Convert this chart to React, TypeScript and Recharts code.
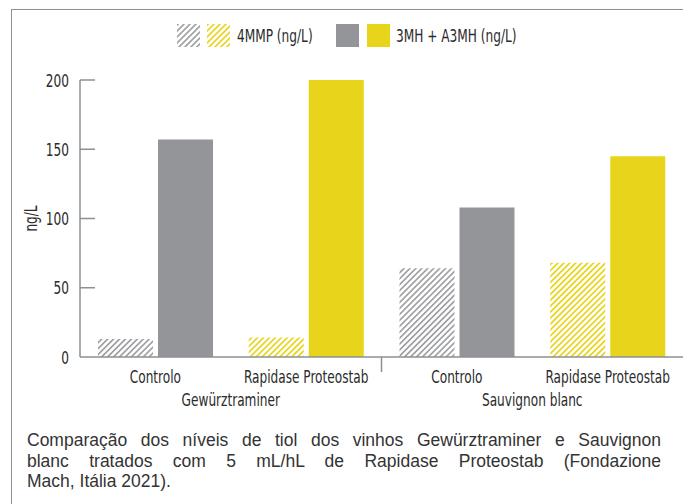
import React from 'react';
import { BarChart, Bar, XAxis, YAxis, Cell, Legend } from 'recharts';

const wines = ['Gewürztraminer', 'Gewürztraminer', 'Sauvignon blanc', 'Sauvignon blanc'];
const treatments = ['Controlo', 'Rapidase Proteostab', 'Controlo', 'Rapidase Proteostab'];
const mmp4 = [13, 14, 64, 68];
const mh3 = [157, 200, 108, 145];
const yTicks = [0, 50, 100, 150, 200];
const legendLabels = ['4MMP (ng/L)', '3MH + A3MH (ng/L)'];
const captionLines = [
  'Comparação dos níveis de tiol dos vinhos Gewürztraminer e Sauvignon',
  'blanc tratados com 5 mL/hL de Rapidase Proteostab (Fondazione',
  'Mach, Itália 2021).',
];

const GRAY = '#939598';
const GRAY_HATCH = '#9fa1a4';
const YELLOW = '#e8d41b';
const AXIS = '#8d8f92';
const TEXT = '#2b2b2b';
const FONT = '"DejaVu Sans Condensed", "DejaVu Sans", sans-serif';
const FS = 18;
const SX = 0.75; // squeeze to look like the condensed face of the original
const W = 683;
const H = 504;
const PLOT_LEFT = 80;
const BAND = (W - PLOT_LEFT) / 4;

const data = treatments.map((t, i) => ({ treatment: t, wine: wines[i], mmp: mmp4[i], mh: mh3[i] }));

const isControl = (t: string) => t === 'Controlo';

const Hatch = ({ id, color }: { id: string; color: string }) => (
  <pattern id={id} patternUnits="userSpaceOnUse" width={4.2} height={4.2} patternTransform="rotate(45)">
    <rect width={4.2} height={4.2} fill="#fff" />
    <rect width={1.7} height={4.2} fill={color} />
  </pattern>
);

const SText = ({ x, y, anchor = 'middle', rotate = 0, children }: any) => (
  <text
    transform={`translate(${x},${y}) rotate(${rotate}) scale(${SX},1)`}
    textAnchor={anchor}
    fontFamily={FONT}
    fontSize={FS}
    fill={TEXT}
  >
    {children}
  </text>
);

const Swatch = ({ fill, id, color }: any) => (
  <svg width={23} height={23} style={{ display: 'block' }}>
    {id && (
      <defs>
        <Hatch id={id} color={color} />
      </defs>
    )}
    <rect width={23} height={23} fill={fill} />
  </svg>
);

const squeeze: React.CSSProperties = {
  display: 'inline-block',
  transform: `scaleX(${SX})`,
  transformOrigin: 'left center',
  whiteSpace: 'nowrap',
};

const LegendBox = () => (
  <div style={{ display: 'flex', alignItems: 'center', fontFamily: FONT, fontSize: FS, color: TEXT }}>
    <Swatch id="lg-h-gray" color={GRAY_HATCH} fill="url(#lg-h-gray)" />
    <div style={{ width: 7 }} />
    <Swatch id="lg-h-yellow" color={YELLOW} fill="url(#lg-h-yellow)" />
    <div style={{ width: 106, paddingLeft: 7, boxSizing: 'border-box' }}>
      <span style={squeeze}>{legendLabels[0]}</span>
    </div>
    <Swatch fill={GRAY} />
    <div style={{ width: 8 }} />
    <Swatch fill={YELLOW} />
    <div style={{ paddingLeft: 6 }}>
      <span style={squeeze}>{legendLabels[1]}</span>
    </div>
  </div>
);

const YTick = ({ x, y, payload }: any) => (
  <g>
    {payload.value !== 0 && <line x1={x} x2={x + 15} y1={y} y2={y} stroke={AXIS} strokeWidth={1.5} />}
    <SText x={x - 11} y={y + 6.5} anchor="end">
      {payload.value}
    </SText>
  </g>
);

const TreatmentTick = ({ x, y, payload, index }: any) => (
  <g>
    {index === 2 && (
      <line x1={x - BAND / 2} x2={x - BAND / 2} y1={y} y2={y + 15} stroke={AXIS} strokeWidth={1.5} />
    )}
    <SText x={x} y={y + 26}>
      {payload.value}
    </SText>
  </g>
);

const WineTick = ({ x, y, payload }: any) => (
  <SText x={x} y={y + 24}>
    {payload.value}
  </SText>
);

const YLabel = ({ viewBox }: any) => (
  <SText x={37} y={viewBox.y + viewBox.height / 2} rotate={-90}>
    ng/L
  </SText>
);

export default function App() {
  return (
    <div style={{ position: 'absolute', left: 0, top: 0, width: W, height: H, background: '#fff' }}>
      <div
        style={{
          position: 'absolute',
          left: 11,
          top: 9,
          width: W - 11,
          height: H - 9,
          borderTop: `1.5px solid ${AXIS}`,
          borderLeft: `1.5px solid ${AXIS}`,
          boxSizing: 'border-box',
        }}
      />
      <div style={{ position: 'absolute', left: 0, top: 0 }}>
        <BarChart
          width={W}
          height={H}
          data={data}
          margin={{ top: 80, right: 0, left: 0, bottom: 92 }}
          barSize={55}
          barGap={5}
        >
          <defs>
            <Hatch id="h-gray" color={GRAY_HATCH} />
            <Hatch id="h-yellow" color={YELLOW} />
          </defs>
          <XAxis
            dataKey="treatment"
            height={25}
            axisLine={{ stroke: AXIS, strokeWidth: 1.5 }}
            tickLine={false}
            tickSize={0}
            tickMargin={0}
            interval={0}
            tick={<TreatmentTick />}
          />
          <XAxis
            xAxisId="wine"
            dataKey="wine"
            allowDuplicatedCategory={false}
            height={30}
            axisLine={false}
            tickLine={false}
            tickSize={0}
            tickMargin={0}
            interval={0}
            tick={<WineTick />}
          />
          <YAxis
            width={80}
            domain={[0, 200]}
            ticks={yTicks}
            axisLine={{ stroke: AXIS, strokeWidth: 1.5 }}
            tickLine={false}
            tickSize={0}
            tickMargin={0}
            tick={<YTick />}
            label={{ content: <YLabel /> }}
          />
          <Legend
            layout="horizontal"
            verticalAlign="middle"
            align="center"
            wrapperStyle={{ top: 24, left: 177, width: 420 }}
            content={<LegendBox />}
          />
          <Bar dataKey="mmp" name={legendLabels[0]} isAnimationActive={false}>
            {data.map((d, i) => (
              <Cell key={i} fill={isControl(d.treatment) ? 'url(#h-gray)' : 'url(#h-yellow)'} />
            ))}
          </Bar>
          <Bar dataKey="mh" name={legendLabels[1]} isAnimationActive={false}>
            {data.map((d, i) => (
              <Cell key={i} fill={isControl(d.treatment) ? GRAY : YELLOW} />
            ))}
          </Bar>
        </BarChart>
      </div>
      <div
        style={{
          position: 'absolute',
          left: 27,
          top: 430,
          width: 634,
          fontFamily: '"Liberation Sans", Arial, sans-serif',
          fontSize: 17.5,
          lineHeight: '20.5px',
          color: '#333',
        }}
      >
        {captionLines.map((line, i) => (
          <div
            key={i}
            style={{
              textAlign: i < 2 ? 'justify' : 'left',
              textAlignLast: i < 2 ? 'justify' : 'left',
            } as React.CSSProperties}
          >
            {line}
          </div>
        ))}
      </div>
    </div>
  );
}
